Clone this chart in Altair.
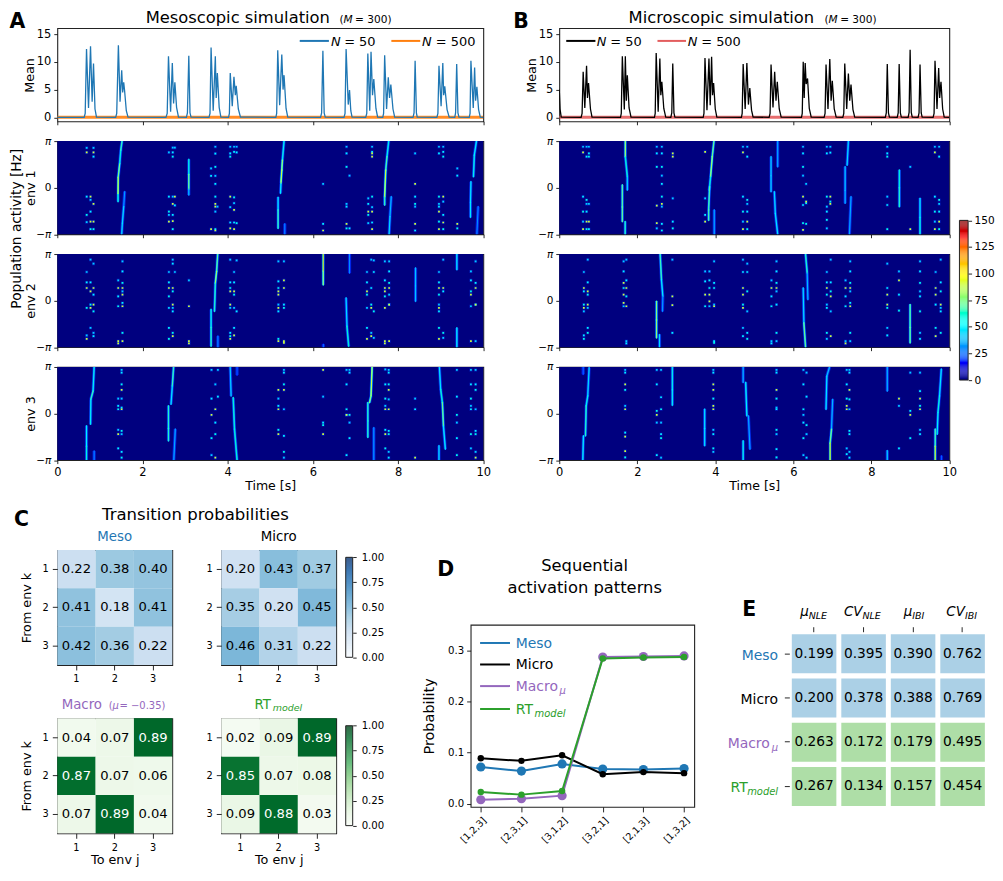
import altair as alt
import pandas as pd

PI = 3.14159265
FONT = "DejaVu Sans"
C_MESO, C_MICRO, C_MACRO, C_RT = "#1f77b4", "#000000", "#9467bd", "#2ca02c"

# ---- Mean traces -----------------------------------------------------------
MEAN_A_T = [0,.63,.655,.686,.733,.78,.818,.85,.885,.92,1.37,1.395,1.434,1.473,1.512,1.535,1.559,1.58,1.62,1.66,2.55,2.58,2.61,2.66,2.70,2.73,2.76,2.80,2.845,3.03,3.055,3.087,3.115,3.14,3.56,3.585,3.61,3.66,3.71,3.73,3.757,3.80,3.84,4.02,4.04,4.06,4.107,4.147,4.18,4.20,4.25,4.30,5.13,5.15,5.175,5.22,5.27,5.30,5.323,5.37,5.41,6.18,6.205,6.235,6.265,6.29,6.73,6.755,6.78,6.83,6.86,6.89,6.92,7.24,7.265,7.29,7.335,7.365,7.40,7.43,7.48,7.52,7.64,7.66,7.685,7.73,7.77,7.80,7.83,7.88,7.92,8.35,8.375,8.40,8.43,8.45,8.91,8.935,8.96,9.01,9.05,9.07,9.096,9.15,9.2,9.33,9.35,9.376,9.405,9.43,9.67,9.69,9.71,9.765,9.797,9.82,9.85,9.89,9.93,10]
MEAN_A_V = [0,0,.7,12.3,1.7,12.8,2.8,9.7,1.5,.05,0,.7,13,2.8,8.5,4.5,6.3,4.8,1.2,.05,0,.7,11,1,9.8,2.5,6.3,1.8,.05,0,.8,11.1,.8,.05,0,.7,12.6,1.2,11,3.5,8,1.8,.05,0,.7,8,2,7.3,4,5.7,1.5,.05,0,.7,12.1,2.2,11.3,5,7.6,1.6,.05,0,.8,12,.8,.05,0,.7,12.3,2.3,4.9,1.2,.05,0,.7,11.5,1.2,11.8,4,6.9,1.6,.05,0,.7,11.2,1.5,7.2,3.5,5.9,1.5,.05,0,.8,10.2,.8,.05,0,.7,9.3,2,9.8,4,5.6,1.4,.05,0,.8,9.6,.8,.05,0,.7,10.2,1.7,9,3,5.5,1.4,.05,0]
MEAN_B_T = [0,.02,.05,.56,.585,.613,.655,.70,.723,.75,.80,.84,1.57,1.59,1.617,1.668,1.694,1.72,1.745,1.79,1.84,2.44,2.46,2.485,2.536,2.579,2.604,2.63,2.68,2.73,2.86,2.885,2.91,2.94,2.965,3.69,3.71,3.736,3.787,3.838,3.87,3.906,3.93,3.957,4.0,4.04,4.67,4.69,4.715,4.766,4.81,4.85,4.885,4.93,4.97,5.38,5.405,5.43,5.48,5.523,5.557,5.59,5.64,5.69,6.21,6.23,6.255,6.28,6.306,6.33,6.366,6.41,6.46,6.79,6.815,6.84,6.89,6.936,6.97,7.0,7.05,7.1,7.27,7.295,7.32,7.37,7.413,7.447,7.48,7.53,7.575,8.36,8.385,8.41,8.44,8.465,8.665,8.69,8.715,8.745,8.77,8.945,8.97,8.996,9.025,9.05,9.20,9.225,9.25,9.28,9.305,9.585,9.61,9.634,9.685,9.728,9.753,9.787,9.83,9.87,10]
MEAN_B_V = [5,1.5,.05,0,.7,8.2,1.7,9.3,3.5,6.2,1.5,.05,0,.7,11,1.4,11,3,7.6,1.7,.05,0,.7,11.6,1,10.6,4,6.4,1.6,.05,0,.8,9.7,.8,.05,0,.7,10.7,1.3,10.6,2.2,10.9,4,6.2,1.5,.05,0,.7,9.6,1.5,9.8,2.3,5.3,1.3,.05,0,.7,9.5,1.8,8.2,3,6.4,1.5,.05,0,.7,10,3.5,9.8,6,7,1.6,.05,0,.7,9.5,1.5,10.5,3,6.6,1.5,.05,0,.7,9.7,1.5,7.9,3,5.9,1.4,.05,0,.8,9.6,.8,.05,0,.8,9.6,.8,.05,0,.9,12.2,.9,.05,0,.8,9.5,.8,.05,0,.7,10.2,1.5,8.9,3.5,6.4,1.5,.05,0]
MEAN_T500 = [0, 10]
MEAN_V500 = [0.02, 0.02]

# ---- Heatmap ridges: (time, phase, rate) ------------------------------------
STREAKS = {
"A1": [[(1.426,-.94,30),(1.426,-.4,95),(1.43,.7,105),(1.465,1.64,55),(1.49,2.53,65),(1.52,3.14,70)],
       [(1.582,-.27,25),(1.559,-1.28,45),(1.528,-2.4,50),(1.512,-3.14,45)],
       [(3.087,1.9,25),(3.087,.9,95),(3.087,-.1,60),(3.087,-.49,25)],
       [(5.323,3.14,55),(5.285,1.86,60),(5.27,1.19,115),(5.25,.3,75),(5.24,-.38,30)],
       [(5.183,-.65,30),(5.183,-1.5,70),(5.183,-2.74,65)],
       [(5.34,-2.44,25),(5.34,-3.14,40)],
       [(7.78,3.14,60),(7.74,2.09,55),(7.71,1.19,85),(7.685,-.61,105),(7.685,-1.17,30)],
       [(7.84,-.61,30),(7.81,-1.95,50),(7.79,-3.14,45)],
       [(9.84,3.14,40),(9.79,2.2,65),(9.77,.74,50)],
       [(9.71,.4,30),(9.70,-1.0,70),(9.70,-2.0,30)],
       [(9.88,-1.28,25),(9.85,-3.14,40)]],
"A2": [[(3.765,3.14,70),(3.74,1.97,75),(3.71,1.18,95),(3.69,-.72,35)],
       [(3.61,-.6,30),(3.61,-1.8,85),(3.61,-3.07,45)],
       [(3.77,-2.4,25),(3.77,-3.14,40)],
       [(6.243,3.14,90),(6.243,2.0,130),(6.243,1.07,40)],
       [(6.86,3.14,40),(6.86,1.86,25)],
       [(6.78,.18,30),(6.80,-1.73,65),(6.84,-3.07,60)],
       [(8.41,2.2,25),(8.41,1.0,60),(8.41,-.05,25)],
       [(9.38,3.14,70),(9.38,2.09,30)],
       [(9.38,-1.84,30),(9.38,-3.14,75)],
       [(6.245,-2.95,30),(6.245,-3.14,30)]],
"A3": [[(.865,3.14,55),(.84,1.52,55),(.787,.96,80),(.78,-.72,30)],
       [(.686,-.83,30),(.686,-2.2,75),(.686,-3.14,45)],
       [(.865,-2.53,25),(.865,-3.14,40)],
       [(2.73,3.14,65),(2.70,1.86,70),(2.67,.63,30)],
       [(2.61,.52,30),(2.61,-1.0,100),(2.61,-1.84,30)],
       [(2.77,-1.05,25),(2.735,-3.14,50)],
       [(4.06,3.14,45),(4.08,1.19,45)],
       [(4.13,1.07,45),(4.16,-1.05,80),(4.22,-3.14,45)],
       [(4.22,3.14,30),(4.22,2.6,25)],
       [(7.39,3.14,65),(7.365,1.2,125),(7.33,.74,40)],
       [(7.29,.74,30),(7.29,-.5,100),(7.29,-1.6,30)],
       [(7.43,-.95,25),(7.43,-3.14,45)],
       [(8.97,3.14,55),(9.0,1.63,45),(9.04,.74,80),(9.065,-.83,70),(9.11,-2.4,35)],
       [(8.96,-2.17,30),(8.96,-3.14,65)]],
"B1": [[(1.694,3.14,115),(1.694,2.09,60),(1.745,.74,65),(1.745,-.16,30)],
       [(1.617,.18,30),(1.617,-1.3,115),(1.617,-2.29,35)],
       [(1.69,-2.29,40),(1.69,-3.14,90)],
       [(3.966,3.14,60),(3.923,2.09,90),(3.88,.74,85),(3.847,-.16,35)],
       [(3.855,.07,40),(3.83,-1.5,100),(3.83,-2.2,40)],
       [(3.974,-1.5,25),(3.974,-3.14,50)],
       [(5.6,3.14,50),(5.6,1.41,25)],
       [(5.43,2.09,30),(5.43,.8,60),(5.43,-.27,30)],
       [(5.515,-.27,40),(5.54,-1.73,55),(5.6,-3.14,45)],
       [(7.413,3.14,65),(7.38,1.52,30)],
       [(7.33,1.41,30),(7.33,-.2,55),(7.33,-1.05,25)],
       [(7.48,-.61,25),(7.44,-3.14,50)],
       [(8.72,1.19,25),(8.72,0,100),(8.72,-1.28,30)],
       [(9.25,-.72,25),(9.25,-2.0,75),(9.25,-3.14,45)]],
"B2": [[(2.587,3.14,75),(2.62,1.41,60),(2.655,.29,45),(2.647,-.72,25)],
       [(2.494,-.05,30),(2.494,-1.3,130),(2.494,-2.51,35)],
       [(2.57,-2.29,30),(2.57,-3.14,65)],
       [(6.315,3.14,75),(6.357,1.86,55),(6.374,.07,25)],
       [(6.255,.85,25),(6.272,-1.5,70),(6.315,-3.14,80)],
       [(8.996,-.27,25),(8.996,-1.8,120),(8.996,-2.85,30)]],
"B3": [[(.766,3.09,50),(.73,1.19,45),(.69,.52,70),(.672,-1.5,60)],
       [(.62,-1.5,35),(.604,-3.14,70)],
       [(.613,3.14,35),(.613,2.65,25)],
       [(2.90,3.14,30),(2.90,1.6,85),(2.90,.56,25)],
       [(3.728,.29,30),(3.728,-1.0,70),(3.728,-2.17,30)],
       [(4.715,3.14,50),(4.715,2.1,30)],
       [(4.78,2.1,40),(4.81,-.15,70)],
       [(4.85,-.15,40),(4.89,-2.4,35)],
       [(4.715,-1.84,25),(4.715,-3.14,90)],
       [(6.93,3.14,45),(6.86,2.53,40),(6.84,.29,60)],
       [(7.01,.96,25),(6.98,-1.05,55),(6.945,-2.0,100),(6.945,-3.14,115)],
       [(8.41,3.14,55),(8.41,1.52,25)],
       [(8.41,-2.5,40),(8.41,-3.14,50)],
       [(9.796,3.0,50),(9.75,1.19,50),(9.71,.07,70),(9.69,-1.39,40)],
       [(9.64,-1.05,30),(9.64,-2.2,110),(9.64,-3.14,100)],
       [(9.80,-2.85,25),(9.80,-3.14,25)]],
}

# ---- Heatmap spots: (time, phases at a cool rate, phases at a warm rate) -----
SPOTS = {
"A1": [(.69,[2.69,-.61,-1.84,-2.33],[2.38]),(.78,[-.83,-1.61,-2.80],[-.61,-2.29]),(.85,[2.69,2.09,-2.80],[2.38,-1.10,-2.29]),
       (2.62,[2.38,-.61,-1.61,-1.84],[-2.29]),(2.71,[2.70,2.38,2.09,-.61,-1.84,-2.8],[-1.1,-2.25]),(2.76,[2.7,-1.2],[-.61]),
       (3.61,[1.3,.8],[-2.8]),(3.71,[2.76,2.3,1.41,.8,.25,-.61,-1.61,-2.8],[-1.1,-1.28,-2.89]),(3.76,[-1.28],[]),
       (4.06,[2.76,2.31,2.09,-1.32,-2.35],[-.61,-2.74]),(4.15,[2.76,2.42,-.65,-1.05,-2.35],[-1.5,-2.8]),(4.21,[2.76,2.38,-2.4],[]),
       (6.24,[.25,-2.44],[-2.89]),(6.79,[2.76,2.31,1.41,-1.1,-1.28,-2.74],[-2.44]),(6.86,[.81,-2.74],[]),
       (7.30,[-.72,-1.1,-1.84,-2.4],[-1.61]),(7.39,[2.76,2.42,-.61,-1.32,-2.35],[2.31,2.09,-1.61,-2.8]),
       (8.40,[2.31,-.61,-1.1,-1.28,-2.89],[.25,-2.44]),(8.96,[2.76,2.31,-.61,-1.1,-1.28,-2.29],[-1.61,-2.8]),(9.06,[2.76,2.42,2.09,-.94,-1.84,-2.8],[-.61,-2.35]),
       (9.39,[1.3,.81,-2.74],[-2.44])],
"A2": [(.69,[1.93,1.23,-.49,-2.35],[.85,-2.58]),(.78,[2.76,1.23,-.27,-1.84],[.63,-.49]),(.85,[2.49,.40,-.72,-2.17,-2.4],[.85,-.27]),
       (1.43,[1.37,.29,-.38],[.85,-2.74,-2.89]),(1.53,[2.65,1.97,1.19,.63,-.16,-2.17],[.85,.4,-.38,-2.74]),
       (2.62,[1.93,1.23,.29,-.49,-1.84,-2.58],[.85]),(2.71,[2.76,2.49,.63,-.49,-.72,-2.17],[.85,-.27,-2.4]),(2.76,[1.93],[]),
       (3.09,[1.37],[-.38,-2.74,-2.89]),(4.06,[2.76,1.23,.85,-.49,-2.17,-2.4],[.63,-.27,-2.58]),(4.15,[1.93,1.23,.4,-.49,-1.84],[.63,-2.35]),(4.21,[2.71,-.72],[]),
       (5.19,[2.65,1.3,.85,-.27,-.72,-2.58],[.63,.4,-.49,-2.74]),(5.32,[2.65,-.27,-.49],[1.37,.85,-2.74,-2.85]),
       (7.27,[1.93,1.23,.4,-.49,-1.84],[.63,-2.58]),(7.37,[2.76,.85,-.27,-2.17],[-.49,-2.4]),(7.43,[2.71,1.93,-.72,-2.51],[]),
       (7.69,[2.65,1.37,.29],[.85,.63,-.49,-2.74,-2.89]),(7.79,[2.65,1.97,1.19,.4,-.27],[.85,-.27,-2.74]),
       (8.96,[1.93,1.23,.4,-.27,-.72,-1.84],[.85,-.49,-2.58]),(9.06,[2.76,.63,-2.17,-2.51],[.85]),
       (9.71,[1.97,1.37,.63,-.38],[.4,-2.74]),(9.82,[2.65,1.19,-.27,-2.74],[.85,-.27])],
"A3": [(1.43,[1.01,.52,.29,-1.1,-2.35],[-1.39]),(1.51,[2.94,2.76,1.97,1.01,.4,-1.17,-1.39,-2.58,-2.98],[1.59,.29]),
       (3.62,[2.94,1.01,-1.66,-2.8],[-.09]),(3.71,[1.97,-.61,-1.39],[.29,-2.98]),(3.77,[2.94,1.14],[]),
       (5.19,[1.01,.52,-1.1],[.29,1.59,-1.39]),(5.32,[2.94,2.76,1.97,.29,-1.5,-2.58,-2.98],[1.59]),
       (6.24,[1.14,-.61,-.78],[2.94,-1.39]),(6.79,[2.94,1.97,.29,-.09,-2.8],[-.09]),(6.86,[2.94,2.76,-.09,-.61,-1.66],[]),
       (7.70,[2.98,1.97,1.01,.52,-1.1,-2.35],[.29,-1.39]),(7.78,[2.94,2.76,1.97,.96,-1.17,-1.39,-2.58,-2.98],[1.59,.29]),
       (8.40,[1.01,.29],[-2.98]),(9.38,[2.94,1.14,-.09,-.61,-1.66,-2.8],[]),
       (9.71,[2.94,1.97,1.01,.52,.29,-1.39,-2.35],[]),(9.82,[2.94,1.97,1.59,.29,-1.17,-1.39,-2.58],[-2.98])],
"B1": [(.61,[2.76,-.61,-1.61,-2.29],[2.38,-2.8]),(.70,[2.76,2.09,-.83,-1.1,-1.61,-2.8],[-2.29]),(.76,[2.76,2.31,2.09,-1.1,-2.8],[-2.29]),
       (2.5,[2.76,2.31,1.41,-2.74],[-1.21,-2.4]),(2.63,[2.76,2.31,1.41,.81,.25,-.61,-1.28,-2.44,-2.89],[-1.1]),
       (2.91,[-.72,-2.29,-2.74],[2.31,2.09]),(3.74,[-.72,-1.84],[2.42,-2.29]),
       (4.71,[2.76,-.61,-1.61,-2.29],[2.38,-2.8]),(4.82,[2.76,2.09,-.83,-1.1,-1.61,-2.8],[-2.29]),
       (6.25,[2.76,2.31,1.41,.81,-1.17,-2.4],[-.61,-2.85]),(6.33,[.25,-1.05,-2.44],[-.94]),
       (6.86,[2.76,2.31,-.61,-1.28,-1.61,-2.17,-2.74],[]),(6.95,[2.76,2.36,-.94],[-.61,-1.1]),
       (8.41,[2.76,2.31,2.09,-.61,-1.17,-2.8],[]),(9.0,[1.41],[-2.8]),
       (9.63,[2.76,-.61,-1.61,-2.29],[2.38,-2.8]),(9.74,[2.76,2.09,-.83,-1.1,-1.61,-2.8],[-2.29])],
"B2": [(.63,[1.93,.63,-.27,-.72,-2.35,-2.58],[.85,-.49]),(.73,[2.76,1.23,.4,-.49,-1.84,-2.17],[.63,-.27]),
       (1.65,[2.65,1.97,.85,-.38],[1.19,.4,-.16]),(1.72,[2.76,1.37,.29,-2.74,-2.89],[.85,-.38]),
       (2.9,[2.76,-2.17],[.29,-.31]),(3.74,[1.97,1.3,-.38],[.4]),(3.85,[1.97,1.37,.85,-.38],[.4,-.05]),(3.97,[2.65,1.19,.85,-.27,-2.74,-2.85],[-.38]),
       (4.71,[2.76,1.93,-.27,-1.84,-2.4],[.85,.4,-.49]),(4.82,[2.49,1.93,.63,-.72,-2.17,-2.58],[]),
       (5.44,[1.37,.29,-.38,-2.74,-2.89],[.85]),(5.57,[2.65,1.97,1.19,.63,-.27,-2.17,-2.74],[.85]),
       (6.86,[1.93,1.23,.4,-.27,-.49,-2.17,-2.58],[.85]),(6.96,[2.76,1.23,.63,-.72],[.29,-2.4]),
       (7.34,[1.37,.29,-.38,-2.74],[.85,-2.89]),(7.46,[2.65,1.97,1.19,.63,-.16,-2.17,-2.74],[.85,-.38]),
       (8.41,[2.49,.85,-.49,-1.84,-2.35],[.4,-.27]),(8.71,[1.97,.4,-.67],[1.37]),
       (9.25,[2.65,1.97,1.19,.63,.29,-.72,-2.17,-2.58],[]),
       (9.65,[1.93,-.27,-1.84],[.85,.4,-2.4]),(9.78,[2.76,1.23,.63,-.49,-.72,-2.17],[-.27])],
"B3": [(1.69,[2.94,2.76,1.59,.52,-1.28,-2.96],[1.97,.29,-1.55,-2.53]),(2.5,[2.94,1.97,.18,-.61,-2.8],[-.09]),(2.61,[2.94,1.1,.29,-.61,-1.39,-1.66,-2.98],[]),
       (3.95,[2.94,2.76,1.01,-1.1,-1.39,-2.35,-2.58],[1.97,1.59,.52,.29]),(5.57,[2.94,2.76,1.01,.4,.29,-1.1,-1.39,-2.4,-2.96],[1.59]),
       (6.26,[2.94,1.97,.29,-.09,-.61,-1.66,-2.8],[]),(6.34,[2.76,1.14,-.78,-1.39,-2.98],[]),
       (7.37,[2.94,1.97,1.01,-2.35,-2.74],[.52,.29]),(7.44,[2.94,2.76,.96,.29,-1.17,-1.39,-2.58,-2.98],[1.59]),
       (8.71,[.52,-2.35],[1.01]),(9.0,[2.76,.18,-1.66],[-.09]),(9.25,[2.76,1.52,.52,-1.1,-1.39],[1.01,.29])],
}

# ---- Colour maps -------------------------------------------------------------
JET_DOMAIN = [0, 16.5, 52, 75, 97.5, 133.5, 150]
JET_RANGE = ["#00007f", "#0000ff", "#00ffff", "#7dff7a", "#ffff00", "#ff0000", "#7f0000"]
STOPS = [0, .125, .25, .375, .5, .625, .75, .875, 1]
BLUES = ["#f7fbff", "#deebf7", "#c6dbef", "#9ecae1", "#6baed6", "#4292c6", "#2171b5", "#08519c", "#08306b"]
GREENS = ["#f7fcf5", "#e5f5e0", "#c7e9c0", "#a1d99b", "#74c476", "#41ab5d", "#238b45", "#006d2c", "#00441b"]
JET_LEVELS = list(range(0, 151))
UNIT_LEVELS = [i / 100 for i in range(0, 101)]

# ---- Transition matrices ------------------------------------------------------
T_MESO = [[.22, .38, .40], [.41, .18, .41], [.42, .36, .22]]
T_MICRO = [[.20, .43, .37], [.35, .20, .45], [.46, .31, .22]]
T_MACRO = [[.04, .07, .89], [.87, .07, .06], [.07, .89, .04]]
T_RT = [[.02, .09, .89], [.85, .07, .08], [.09, .88, .03]]

# ---- Sequential patterns ------------------------------------------------------
PATTERNS = ["[1,2,3]", "[2,3,1]", "[3,1,2]", "[3,2,1]", "[2,1,3]", "[1,3,2]"]
P_MESO = [.072, .064, .078, .068, .067, .069]
P_MICRO = [.089, .084, .095, .058, .062, .060]
P_MACRO = [.008, .010, .016, .287, .288, .289]
P_RT = [.023, .018, .025, .284, .286, .287]

# ---- Table E --------------------------------------------------------------------
E_ROWS = ["Meso", "Micro", "Macro", "RT"]
E_COLS = ["mu_NLE", "CV_NLE", "mu_IBI", "CV_IBI"]
E_VALUES = [[.199, .395, .390, .762], [.200, .378, .388, .769], [.263, .172, .179, .495], [.267, .134, .157, .454]]

ROW_GAP = 0


def T(text, x, y, size, color="black", align="left", style="normal", weight="normal", angle=0, baseline="alphabetic"):
    return alt.Chart(pd.DataFrame({"s": [text]})).mark_text(
        font=FONT, fontSize=size, color=color, align=align, fontStyle=style, fontWeight=weight, angle=angle, baseline=baseline
    ).encode(text="s:N", x=alt.value(x), y=alt.value(y))


def legline(x1, x2, y, color, width=2.0):
    return alt.Chart(pd.DataFrame({"a": [0]})).mark_rule(color=color, strokeWidth=width).encode(
        x=alt.value(x1), x2=alt.value(x2), y=alt.value(y))


def anchor(x1, y1, x2, y2):
    return alt.Chart(pd.DataFrame({"a": [0]})).mark_rule(opacity=0).encode(
        x=alt.value(x1), x2=alt.value(x2), y=alt.value(y1), y2=alt.value(y2))


def spacer(w, h):
    return alt.Chart(pd.DataFrame({"a": [0]})).mark_rule(opacity=0).encode(x=alt.value(0), x2=alt.value(1), y=alt.value(0)).properties(
        width=w, height=h, view=alt.ViewBackground(stroke="transparent"))


WA, WB, HH = 427.7, 391.6, 93.5
X_DOM = alt.Scale(domain=[0, 10], nice=False, zero=False)
Y_PHASE = alt.Scale(domain=[-PI, PI], nice=False, zero=False)
JET = alt.Scale(domain=JET_DOMAIN, range=JET_RANGE)


def mean_panel(tv, vv, t5, v5, c50, c500, width, extras):
    line = pd.DataFrame({"t": tv, "v": vv})
    l5 = pd.DataFrame({"t": t5, "v": v5})
    base = alt.Chart(l5).mark_line(color=c500, strokeWidth=3.2, opacity=.9, clip=True).encode(
        x=alt.X("t:Q", scale=X_DOM, axis=alt.Axis(values=[0, 2, 4, 6, 8, 10], labels=False, title=None)),
        y=alt.Y("v:Q", scale=alt.Scale(domain=[-.71, 16.07], nice=False, zero=False),
                axis=alt.Axis(tickCount=4, format="d", labelOverlap=False, title="Mean", titleX=-28, titleY=47, titleAngle=270,
                              titleAlign="center", titleBaseline="middle", titleFontSize=12.8, labelFontSize=11.5)))
    fg = alt.Chart(line).mark_line(color=c50, strokeWidth=1.3, clip=True).encode(x=alt.X("t:Q"), y=alt.Y("v:Q"))
    return alt.layer(base, fg, *extras).properties(width=width, height=HH)


def heat_layers(key, ytitle, show_x, xtitle_x=None):
    bg = pd.DataFrame({"t": [0], "t2": [10], "p": [-PI], "p2": [PI], "v": [0]})
    xaxis = alt.Axis(values=[0, 2, 4, 6, 8, 10], labels=show_x, format="d", labelFontSize=11.5, labelOverlap=False,
                     title="Time [s]" if show_x else None,
                     **({"titleX": xtitle_x, "titleY": 29.3, "titleFontSize": 12.6, "titleBaseline": "alphabetic"} if show_x else {}))
    yaxis = alt.Axis(values=[-PI, 0, PI], labelExpr="datum.value < -1 ? '−π' : (datum.value > 1 ? 'π' : '0')",
                     labelFontSize=10.5, labelOverlap=False,
                     labelFontStyle={"condition": {"test": "datum.value == 0", "value": "normal"}, "value": "italic"},
                     title=ytitle, **({"titleX": -27, "titleY": 46.7, "titleAngle": 270, "titleAlign": "center",
                                       "titleBaseline": "middle", "titleFontSize": 12.8} if ytitle else {}))
    col = alt.Color("v:Q", scale=JET, legend=None)
    back = alt.Chart(bg).mark_rect().encode(
        x=alt.X("t:Q", scale=X_DOM, axis=xaxis), x2="t2:Q",
        y=alt.Y("p:Q", scale=Y_PHASE, axis=yaxis), y2="p2:Q", color=col)
    segs = []
    for s in STREAKS[key]:
        for (a, b) in zip(s[:-1], s[1:]):
            segs.append({"t": a[0], "p": a[1], "t2": b[0], "p2": b[1], "v": (a[2] + b[2]) / 2, "vm": (a[2] + b[2]) / 2 * .55})
    segs = pd.DataFrame(segs)
    rows = []
    for (t, cool, warm) in SPOTS[key]:
        for i, p in enumerate(cool):
            rows.append({"t": t, "p": p, "v": 42 + (i % 3) * 8})
        for p in warm:
            rows.append({"t": t, "p": p, "v": 90})
    spots = pd.DataFrame(rows)
    ex = dict(x=alt.X("t:Q", scale=X_DOM), y=alt.Y("p:Q", scale=Y_PHASE))
    halo = alt.Chart(segs).mark_rule(color="#0033ff", strokeWidth=3.2, clip=True, opacity=.7).encode(x2="t2:Q", y2="p2:Q", **ex)
    mid = alt.Chart(segs).mark_rule(strokeWidth=1.8, clip=True, strokeCap="round").encode(
        x2="t2:Q", y2="p2:Q", color=alt.Color("vm:Q", scale=JET, legend=None), **ex)
    core = alt.Chart(segs).mark_rule(strokeWidth=.9, clip=True, strokeCap="round").encode(x2="t2:Q", y2="p2:Q", color=col, **ex)
    sh = alt.Chart(spots).mark_square(size=9, color="#0030e0", opacity=.6, clip=True).encode(**ex)
    sc = alt.Chart(spots).mark_square(size=3, opacity=1, clip=True).encode(color=col, **ex)
    return [back, halo, mid, core, sh, sc]


def heat_panel(key, width, ytitle, show_x, xtitle_x=None, extras=()):
    return alt.layer(*heat_layers(key, ytitle, show_x, xtitle_x), *extras).properties(width=width, height=HH)


def colorbar(levels, scale, y0, y1, x0, x1, panel_w, ticks, fmt, label_size, pad):
    dom = [levels[0], levels[-1]]
    df = pd.DataFrame({"lo": levels[:-1], "hi": levels[1:]})
    bar = alt.Chart(df).mark_rect().encode(
        x=alt.value(x0), x2=alt.value(x1),
        y=alt.Y("lo:Q", scale=alt.Scale(domain=dom, range=[y1, y0], nice=False, zero=False),
                axis=alt.Axis(orient="right", offset=x1 - panel_w, values=ticks, format=fmt, title=None, tickSize=3.5,
                              labelFontSize=label_size, labelPadding=pad, labelOverlap=False)),
        y2="hi:Q", color=alt.Color("lo:Q", scale=scale, legend=None))
    fr = alt.Chart(pd.DataFrame({"lo": [dom[0]], "hi": [dom[1]]})).mark_rect(fillOpacity=0, stroke="#222", strokeWidth=1).encode(
        x=alt.value(x0), x2=alt.value(x1),
        y=alt.Y("lo:Q", scale=alt.Scale(domain=dom, range=[y1, y0], nice=False, zero=False), axis=None), y2="hi:Q")
    return [bar, fr]


# ---- Column A -----------------------------------------------------------------
a_extras = [
    anchor(-49.3, -20.5, 447.7, 469.5),
    T("A", -48, -16.5, 20.5, weight="bold", baseline="top"),
    T("Mesoscopic simulation", 88.7, -18.2, 16.4, baseline="top"),
    T("(", 283.4, -4.8, 10.6), T("M", 287.3, -4.8, 10.6, style="italic"), T("= 300)", 299, -4.8, 10.6),
    legline(243.4, 272.7, 12.8, C_MESO), T("N", 274.7, 17.8, 13, style="italic"), T("= 50", 288, 17.8, 13),
    legline(335.4, 364.4, 12.8, "#ff7f0e"), T("N", 366.2, 17.8, 13, style="italic"), T("= 500", 380, 17.8, 13),
]
a0 = mean_panel(MEAN_A_T, MEAN_A_V, MEAN_T500, MEAN_V500, C_MESO, "#ff7f0e", WA, a_extras)
a1 = heat_panel("A1", WA, "env 1", False, extras=[T("Population activity [Hz]", -40.5, 88, 13.8, align="center", angle=270, baseline="middle")])
a2 = heat_panel("A2", WA, "env 2", False)
a3 = heat_panel("A3", WA, "env 3", True, xtitle_x=213.7)
col_a = alt.vconcat(a0, a1, a2, a3, spacing=19.4, bounds="flush").resolve_scale(color="independent")

# ---- Column B -----------------------------------------------------------------
b_extras = [
    anchor(-53.7, -20.5, 435.5, 469.5),
    T("B", -46.2, -16.5, 20.5, weight="bold", baseline="top"),
    T("Microscopic simulation", 69.6, -18.2, 16.4, baseline="top"),
    T("(", 266.3, -4.8, 10.6), T("M", 270.2, -4.8, 10.6, style="italic"), T("= 300)", 282, -4.8, 10.6),
    legline(7, 36.3, 12.8, "#000000"), T("N", 37.6, 17.8, 13, style="italic"), T("= 50", 51.3, 17.8, 13),
    legline(98.6, 127.3, 12.8, "#e35d5e"), T("N", 129, 17.8, 13, style="italic"), T("= 500", 142.5, 17.8, 13),
]
b0 = mean_panel(MEAN_B_T, MEAN_B_V, MEAN_T500, MEAN_V500, "#000000", "#e35d5e", WB, b_extras)
cbar_jet = colorbar(JET_LEVELS, JET, 79.6, 239.9, 401.8, 410.5, WB, [0, 25, 50, 75, 100, 125, 150], "d", 10.6, 2.5)
b1 = alt.layer(alt.layer(*heat_layers("B1", None, False)), *cbar_jet).resolve_scale(y="independent").properties(width=WB, height=HH)
b2 = heat_panel("B2", WB, None, False)
b3 = heat_panel("B3", WB, None, True, xtitle_x=195.8)
col_b = alt.vconcat(b0, b1, b2, b3, spacing=19.4, bounds="flush").resolve_scale(color="independent")

row1 = alt.hconcat(col_a, col_b, spacing=0).resolve_scale(color="independent")

# ---- Panel C --------------------------------------------------------------------
CW = 115.4


def trans(matrix, colors, ytitle, xtitle, extras, cbar=None):
    rows = []
    for i, r in enumerate(matrix):
        for j, v in enumerate(r):
            rows.append({"to": j + 1, "frm": i + 1, "v": v, "lab": f"{v:.2f}"})
    df = pd.DataFrame(rows)
    scale = alt.Scale(domain=STOPS, range=colors)
    xa = alt.Axis(labelAngle=0, labelFontSize=9.8, tickSize=5, labelPadding=4, title=xtitle,
                  **({"titleX": 57.7, "titleY": 30.2, "titleFontSize": 12.8, "titleBaseline": "alphabetic"} if xtitle else {}))
    ya = alt.Axis(labelAngle=0, labelFontSize=9.8, tickSize=5, labelPadding=4, title=ytitle,
                  **({"titleX": -31.3, "titleY": 57.7, "titleAngle": 270, "titleAlign": "center",
                      "titleBaseline": "middle", "titleFontSize": 12.8} if ytitle else {}))
    xs = alt.X("to:O", axis=xa, scale=alt.Scale(paddingInner=0, paddingOuter=0))
    ys = alt.Y("frm:O", axis=ya, scale=alt.Scale(paddingInner=0, paddingOuter=0))
    rect = alt.Chart(df).mark_rect().encode(x=xs, y=ys, color=alt.Color("v:Q", scale=scale, legend=None))
    layers = [rect]
    for colr, part in [("black", df[df.v <= .6]), ("white", df[df.v > .6])]:
        if len(part):
            layers.append(alt.Chart(part).mark_text(font=FONT, fontSize=13.2, baseline="middle", color=colr).encode(
                x=alt.X("to:O", scale=alt.Scale(paddingInner=0, paddingOuter=0)),
                y=alt.Y("frm:O", scale=alt.Scale(paddingInner=0, paddingOuter=0)),
                text="lab:N"))
    if cbar:
        return alt.layer(alt.layer(*layers), *extras, *cbar).resolve_scale(y="independent").properties(width=CW, height=CW)
    return alt.layer(*layers, *extras).properties(width=CW, height=CW)


c_meso = trans(T_MESO, BLUES, "From env k", None, [
    anchor(-50.3, -52, 351.7, -52),
    T("C", -43.5, -24, 20.5, weight="bold"),
    T("Transition probabilities", 138.7, -30, 16.6, align="center"),
    T("Meso", 57.7, -9.5, 13.4, color=C_MESO, align="center"),
])
c_micro = trans(T_MICRO, BLUES, None, None, [T("Micro", 57.7, -9.5, 13.4, align="center")],
                colorbar(UNIT_LEVELS, alt.Scale(domain=STOPS, range=BLUES), 7.3, 107.7, 125, 132, CW,
                         [0, .25, .5, .75, 1], ".2f", 10.2, 5))
c_macro = trans(T_MACRO, GREENS, "From env k", "To env j", [
    T("Macro", 4.4, -9.5, 13.4, color=C_MACRO),
    T("(", 51.7, -9.5, 10, color=C_MACRO), T("μ", 55.5, -9.5, 10, color=C_MACRO, style="italic"),
    T("= −0.35)", 62.5, -9.5, 10, color=C_MACRO),
])
c_rt = trans(T_RT, GREENS, None, "To env j", [
    T("RT", 33.4, -9.5, 13.4, color=C_RT),
    T("model", 51.7, -7.6, 9.5, color=C_RT, style="italic"),
], colorbar(UNIT_LEVELS, alt.Scale(domain=STOPS, range=GREENS), 7.4, 107.7, 125, 132, CW,
            [0, .25, .5, .75, 1], ".2f", 10.2, 5))
block_c = alt.concat(c_meso, c_micro, c_macro, c_rt, columns=2, spacing={"row": 53, "column": 48.6}, bounds="flush").resolve_scale(color="independent")

# ---- Panel D --------------------------------------------------------------------
DW, DH = 224.5, 182.9
X_D = alt.X("k:N", sort=PATTERNS, scale=alt.Scale(type="point", padding=.25))
Y_DOM = alt.Scale(domain=[-.006, .35], nice=False, zero=False)
d_layers = []
for idx, (vals, colr, sz) in enumerate([(P_MESO, C_MESO, 85), (P_MICRO, C_MICRO, 42), (P_MACRO, C_MACRO, 85), (P_RT, C_RT, 42)]):
    df = pd.DataFrame({"k": PATTERNS, "p": vals})
    if idx == 0:
        xe = alt.X("k:N", sort=PATTERNS, scale=alt.Scale(type="point", padding=.25),
                   axis=alt.Axis(labelAngle=315, labelFontSize=9.6, tickSize=5, title=None, labelPadding=3))
        ye = alt.Y("p:Q", scale=Y_DOM, axis=alt.Axis(values=[0, .1, .2, .3], format=".1f", labelFontSize=10.2, tickSize=4,
                                                    title="Probability", titleX=-41.5, titleY=91.5, titleAngle=270,
                                                    titleAlign="center", titleBaseline="middle", titleFontSize=14.5))
    else:
        xe, ye = X_D, alt.Y("p:Q", scale=Y_DOM)
    d_layers.append(alt.Chart(df).mark_line(color=colr, strokeWidth=2).encode(x=xe, y=ye))
    d_layers.append(alt.Chart(df).mark_circle(color=colr, size=sz, opacity=1).encode(x=xe, y=ye))
panel_d = alt.layer(
    *d_layers,
    anchor(-60.5, -126.4, 252.5, -126.4),
    T("D", -33.5, -49, 20.5, weight="bold"),
    T("Sequential", 114.5, -54, 16.4, align="center"),
    T("activation patterns", 114.5, -31.9, 16.4, align="center"),
    legline(9.5, 39.5, 18.3, C_MESO), T("Meso", 45.3, 23.3, 14, color=C_MESO),
    legline(9.5, 39.5, 39.9, C_MICRO), T("Micro", 45.3, 44.9, 14),
    legline(9.5, 39.5, 61.6, C_MACRO), T("Macro", 45.3, 66.6, 14, color=C_MACRO), T("μ", 89.3, 70, 10, color=C_MACRO, style="italic"),
    legline(9.5, 39.5, 84.6, C_RT), T("RT", 45.3, 89.6, 14, color=C_RT), T("model", 64.2, 92.6, 10, color=C_RT, style="italic"),
).properties(width=DW, height=DH)
block_d = alt.vconcat(spacer(DW, 74.4), panel_d, spacing=0, bounds="flush").resolve_scale(color="independent")

# ---- Panel E --------------------------------------------------------------------
EW, EH = 198.8, 177.6
rows = []
for i, r in enumerate(E_VALUES):
    for j, v in enumerate(r):
        rows.append({"row": E_ROWS[i], "col": E_COLS[j], "v": v, "lab": f"{v:.3f}", "c": "blue" if i < 2 else "green"})
e_df = pd.DataFrame(rows)
ex_x = alt.Scale(domain=E_COLS, paddingInner=.1, paddingOuter=.05)
ex_y = alt.Scale(domain=E_ROWS, paddingInner=.117, paddingOuter=.0585)
e_rect = alt.Chart(e_df).mark_rect().encode(
    x=alt.X("col:N", scale=ex_x, axis=alt.Axis(orient="top", labels=False, title=None, tickSize=5)),
    y=alt.Y("row:N", scale=ex_y, axis=alt.Axis(labels=False, title=None, tickSize=5)),
    color=alt.Color("c:N", scale=alt.Scale(domain=["blue", "green"], range=["#abd0e6", "#aedea7"]), legend=None))
e_text = alt.Chart(e_df).mark_text(font=FONT, fontSize=13.8, baseline="middle", color="black").encode(
    x=alt.X("col:N", scale=ex_x), y=alt.Y("row:N", scale=ex_y), text="lab:N")
e_marks = [
    anchor(-65.1, -133.8, 204, -133.8),
    T("E", -47.3, -15.5, 20.5, weight="bold"),
    T("μ", 19.5, -15.8, 13.5, align="right", style="italic"), T("NLE", 19.5, -13.1, 9.5, style="italic"),
    T("CV", 73.5, -15.8, 13.5, align="right", style="italic"), T("NLE", 73.5, -13.1, 9.5, style="italic"),
    T("μ", 123.4, -15.8, 13.5, align="right", style="italic"), T("IBI", 123.4, -13.1, 9.5, style="italic"),
    T("CV", 176.3, -15.8, 13.5, align="right", style="italic"), T("IBI", 176.3, -13.1, 9.5, style="italic"),
    T("Meso", -11.3, 28, 14, color=C_MESO, align="right"),
    T("Micro", -11.3, 72.5, 14, align="right"),
    T("Macro", -19.6, 116.6, 14, color=C_MACRO, align="right"), T("μ", -11.3, 119.6, 10, color=C_MACRO, align="right", style="italic"),
    T("RT", -41.7, 161, 14, color=C_RT, align="right"), T("model", -11.3, 164, 10, color=C_RT, align="right", style="italic"),
]
panel_e = alt.layer(e_rect, e_text, *e_marks).properties(width=EW, height=EH, view=alt.ViewBackground(stroke="transparent"))
block_e = alt.vconcat(spacer(EW, 81.8), panel_e, spacing=0, bounds="flush").resolve_scale(color="independent")

row2 = alt.hconcat(block_c, block_d, block_e, spacing=0).resolve_scale(color="independent")

chart = alt.vconcat(row1, row2, spacing=ROW_GAP).resolve_scale(color="independent").properties(
    padding={"left": -1.5, "right": -0.5, "top": -3.5, "bottom": 0}, background="white"
).configure_view(stroke="#222", strokeWidth=1.1).configure_axis(
    grid=False, domain=False, tickColor="#111", tickWidth=.9, tickSize=3.5, labelColor="black", titleColor="black",
    labelFont=FONT, titleFont=FONT, titleFontWeight="normal", labelPadding=3, labelFlush=False, labelBound=False,
)

chart.save("out.html", embed_options={"renderer": "svg", "actions": False})
